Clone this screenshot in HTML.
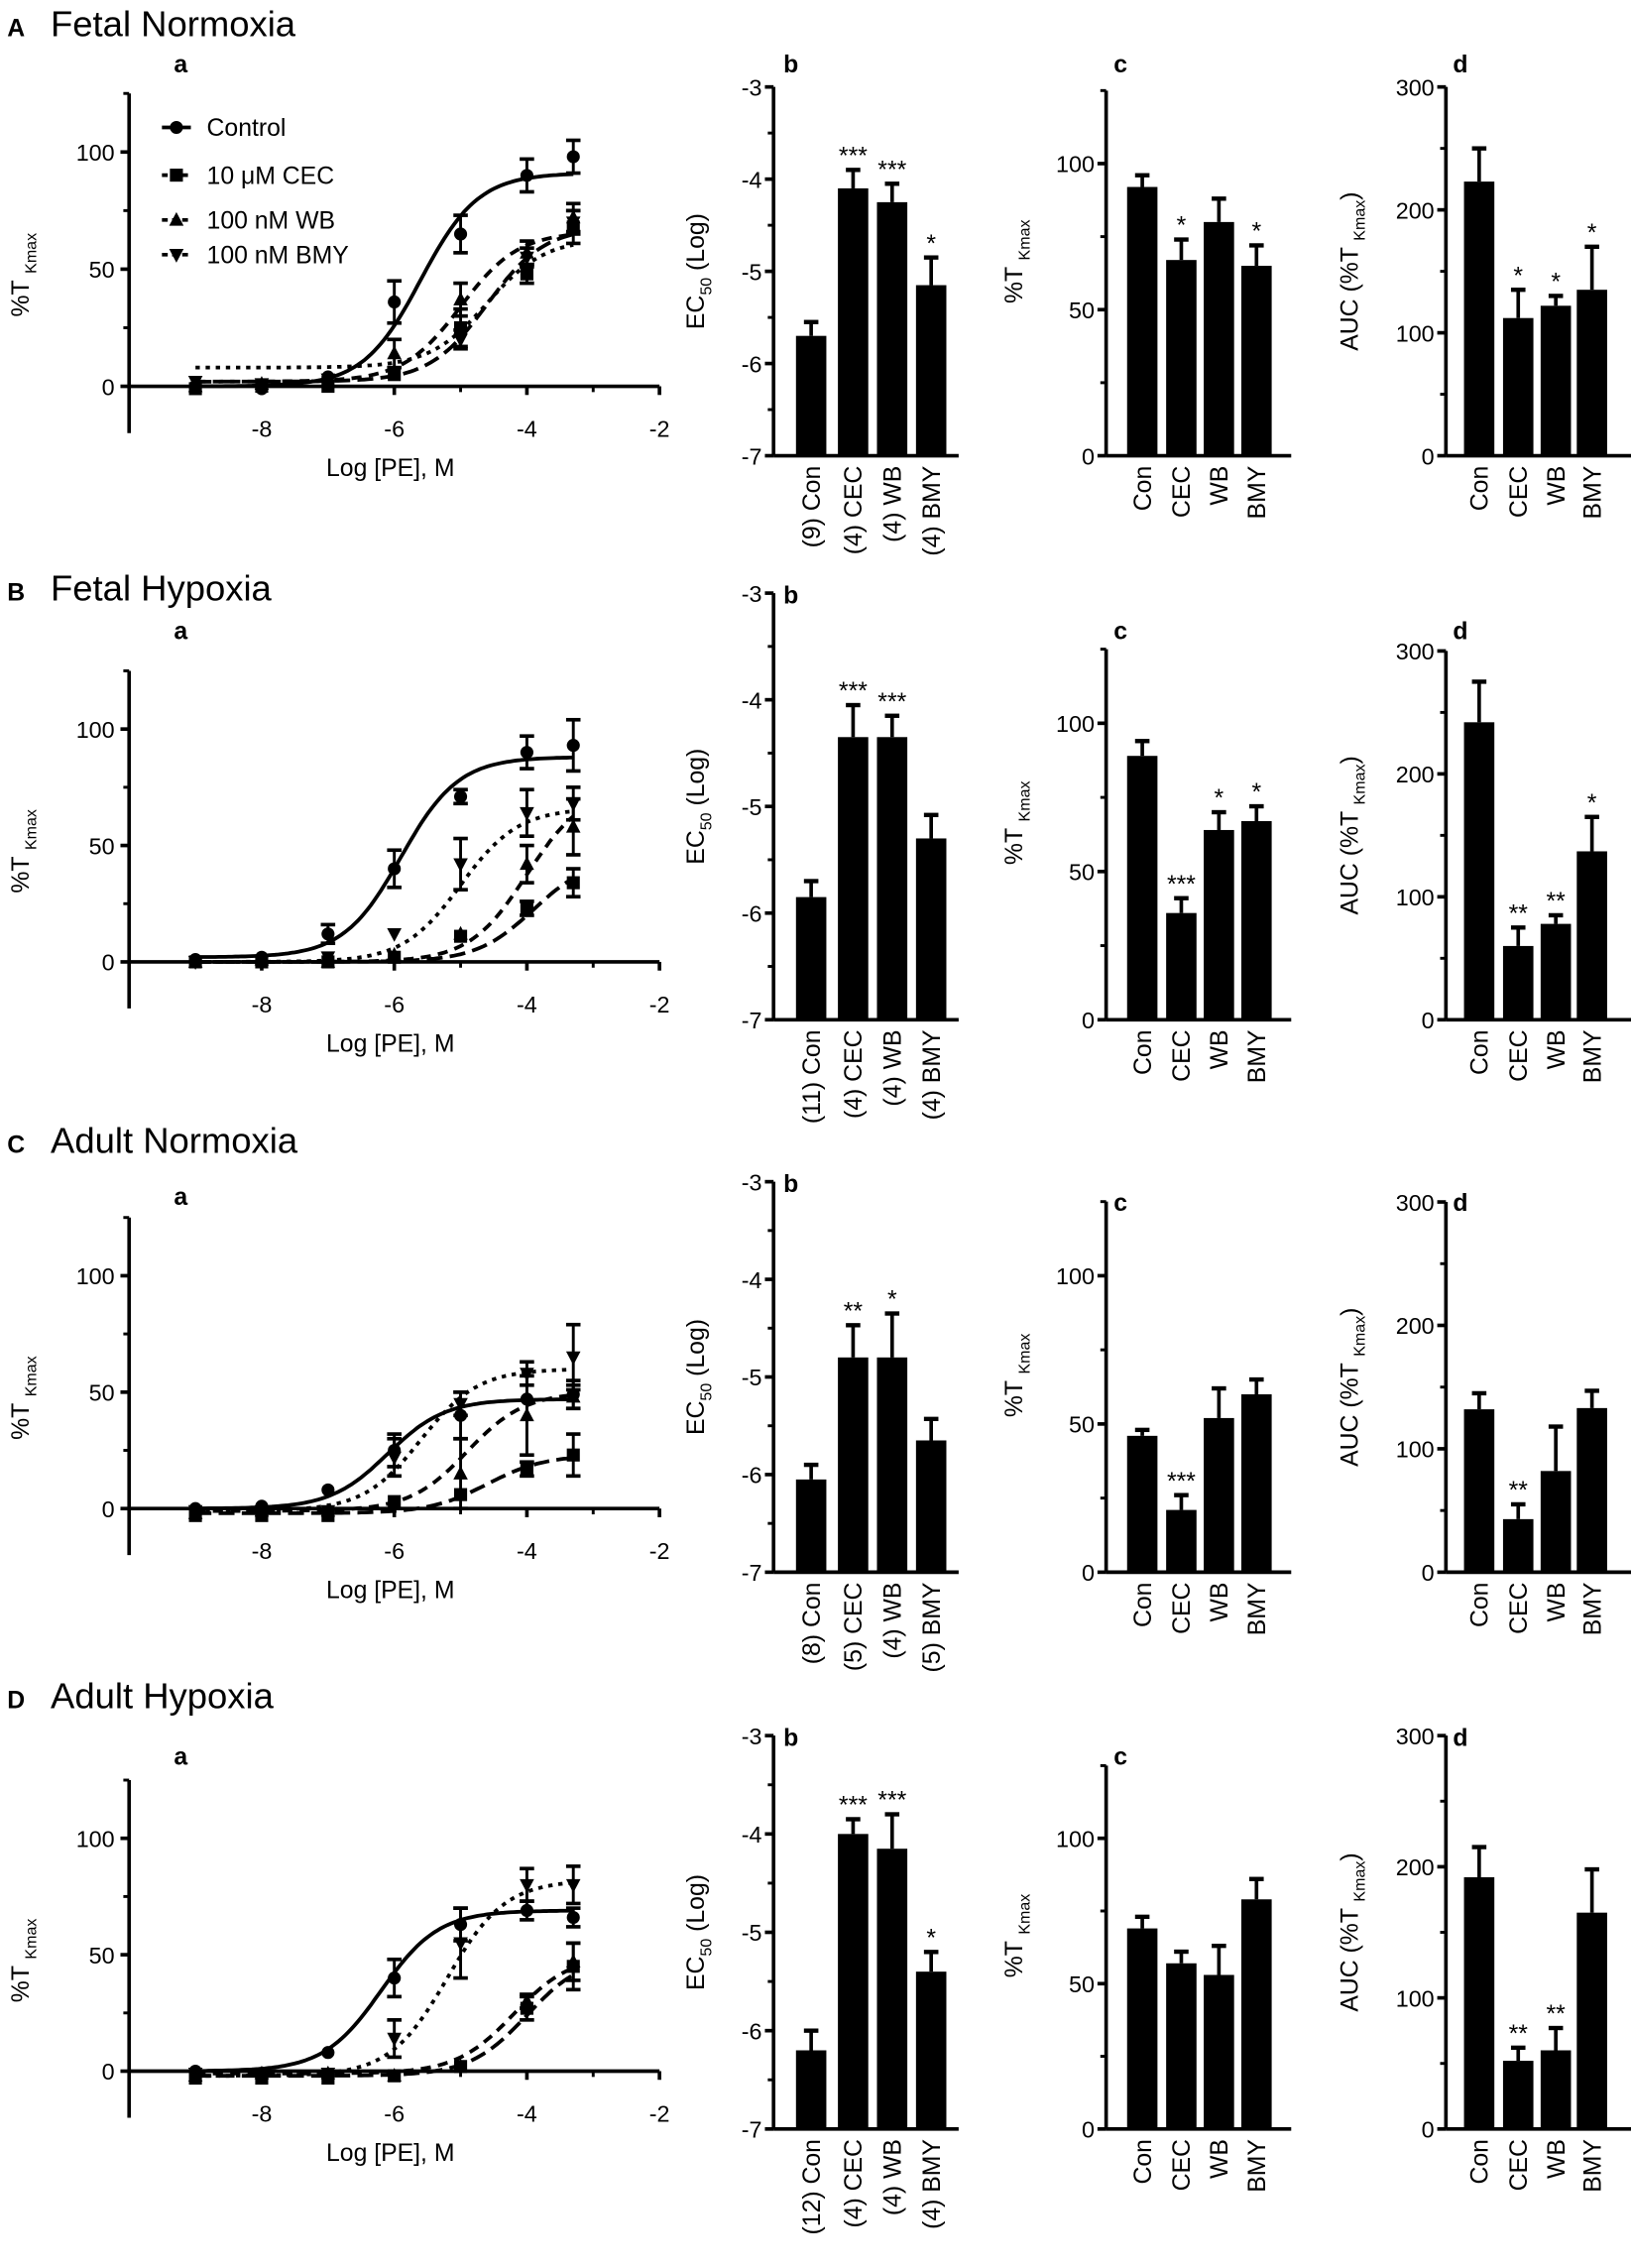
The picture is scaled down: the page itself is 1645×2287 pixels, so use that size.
<!DOCTYPE html>
<html><head><meta charset="utf-8"><style>
html,body{margin:0;padding:0;background:#fff}
svg{display:block}
text{font-family:"Liberation Sans",Arial,sans-serif;fill:#000}
</style></head><body>
<svg id="fig" xmlns="http://www.w3.org/2000/svg" width="1645" height="2287" viewBox="0 0 1128 1568"></svg>
<script>
// ---------- DATA ----------
const doseX = [-9,-8,-7,-6,-5,-4,-3.3];
const seriesLabels = ['Control','10 μM CEC','100 nM WB','100 nM BMY'];
const barCats = ['Con','CEC','WB','BMY'];

// Row A Fetal Normoxia
const A_control=[0,-1,4,36,65,90,98], A_control_err=[1,1,2,9,8,7,7], A_control_fit=[0,91,-5.6];
const A_cec=[-1,0,0,5,25,48,68], A_cec_err=[1,1,1,2,8,4,7], A_cec_fit=[2,68,-4.6];
const A_wb=[0,1,2,14,37,57,72], A_wb_err=[1,1,1,6,7,5,6], A_wb_fit=[2,66,-5.0];
const A_bmy=[2,1,3,6,20,55,70], A_bmy_err=[1,1,1,2,4,4,5], A_bmy_fit=[8,63,-4.6];
const A_ec50=[-5.7,-4.1,-4.25,-5.15], A_ec50_err=[0.15,0.2,0.2,0.3], A_ec50_stars=['','***','***','*'], A_ec50_n=['(9) Con','(4) CEC','(4) WB','(4) BMY'];
const A_tmax=[92,67,80,65], A_tmax_err=[4,7,8,7], A_tmax_stars=['','*','','*'];
const A_auc=[223,112,122,135], A_auc_err=[27,23,8,35], A_auc_stars=['','*','*','*'];

// Row B Fetal Hypoxia
const B_control=[1,2,12,40,71,90,93], B_control_err=[1,1,4,8,3,7,11], B_control_fit=[2,88,-5.9];
const B_cec=[0,0,0,2,11,23,34], B_cec_err=[1,1,1,1,2,3,6], B_cec_fit=[0,45,-3.9];
const B_wb=[0,1,0,3,12,42,58], B_wb_err=[1,1,1,1,2,8,12], B_wb_fit=[0,75,-4.0];
const B_bmy=[0,0,2,12,42,64,68], B_bmy_err=[1,1,1,2,11,10,7], B_bmy_fit=[0,66,-5.0];
const B_ec50=[-5.85,-4.35,-4.35,-5.3], B_ec50_err=[0.15,0.3,0.2,0.22], B_ec50_stars=['','***','***',''], B_ec50_n=['(11) Con','(4) CEC','(4) WB','(4) BMY'];
const B_tmax=[89,36,64,67], B_tmax_err=[5,5,6,5], B_tmax_stars=['','***','*','*'];
const B_auc=[242,60,78,137], B_auc_err=[33,15,7,28], B_auc_stars=['','**','**','*'];

// Row C Adult Normoxia
const C_control=[0,1,8,25,40,47,49], C_control_err=[1,1,1,7,10,2,6], C_control_fit=[0,47,-6.1];
const C_cec=[-3,-3,-3,3,6,17,23], C_cec_err=[1,1,1,2,2,3,9], C_cec_fit=[-2,23,-4.6];
const C_wb=[-2,-1,-1,2,15,40,48], C_wb_err=[1,1,1,2,15,17,5], C_wb_fit=[-1,50,-4.9];
const C_bmy=[-1,-1,-1,22,45,58,65], C_bmy_err=[1,1,1,8,5,5,14], C_bmy_fit=[-1,60,-5.6];
const C_ec50=[-6.05,-4.8,-4.8,-5.65], C_ec50_err=[0.15,0.33,0.45,0.22], C_ec50_stars=['','**','*',''], C_ec50_n=['(8) Con','(5) CEC','(4) WB','(5) BMY'];
const C_tmax=[46,21,52,60], C_tmax_err=[2,5,10,5], C_tmax_stars=['','***','',''];
const C_auc=[132,43,82,133], C_auc_err=[13,12,36,14], C_auc_stars=['','**','',''];

// Row D Adult Hypoxia
const D_control=[0,-1,8,40,63,69,66], D_control_err=[1,1,1,8,7,4,4], D_control_fit=[0,69,-6.2];
const D_cec=[-3,-3,-3,-2,2,27,45], D_cec_err=[1,1,1,1,1,5,10], D_cec_fit=[-2,50,-4.0];
const D_wb=[-2,-1,-1,-2,2,30,47], D_wb_err=[1,1,1,1,2,3,8], D_wb_fit=[-1,50,-4.2];
const D_bmy=[-1,-2,-1,14,55,80,80], D_bmy_err=[1,1,1,8,15,7,8], D_bmy_fit=[-2,82,-5.2];
const D_ec50=[-6.2,-4.0,-4.15,-5.4], D_ec50_err=[0.2,0.15,0.35,0.2], D_ec50_stars=['','***','***','*'], D_ec50_n=['(12) Con','(4) CEC','(4) WB','(4) BMY'];
const D_tmax=[69,57,53,79], D_tmax_err=[4,4,10,7], D_tmax_stars=['','','',''];
const D_auc=[192,52,60,165], D_auc_err=[23,10,17,33], D_auc_stars=['','**','**',''];

// ---------- LAYOUT ----------
const rows=[
 {id:'a-row',letter:'A',title:'Fetal Normoxia',ty:25,
  a:{y0:267,y100:105,ly:50},b:{top:60,bot:315,ly:50},c:{y0:315,y100:113,ly:50},d:{y0:315,y300:60,ly:50},
  cur:[A_control,A_cec,A_wb,A_bmy],err:[A_control_err,A_cec_err,A_wb_err,A_bmy_err],fit:[A_control_fit,A_cec_fit,A_wb_fit,A_bmy_fit],
  ec:[A_ec50,A_ec50_err,A_ec50_stars,A_ec50_n],tm:[A_tmax,A_tmax_err,A_tmax_stars],au:[A_auc,A_auc_err,A_auc_stars],legend:true},
 {id:'b-row',letter:'B',title:'Fetal Hypoxia',ty:415,
  a:{y0:665,y100:504,ly:442},b:{top:410,bot:705,ly:417},c:{y0:705,y100:500,ly:442},d:{y0:705,y300:450,ly:442},
  cur:[B_control,B_cec,B_wb,B_bmy],err:[B_control_err,B_cec_err,B_wb_err,B_bmy_err],fit:[B_control_fit,B_cec_fit,B_wb_fit,B_bmy_fit],
  ec:[B_ec50,B_ec50_err,B_ec50_stars,B_ec50_n],tm:[B_tmax,B_tmax_err,B_tmax_stars],au:[B_auc,B_auc_err,B_auc_stars]},
 {id:'c-row',letter:'C',title:'Adult Normoxia',ty:797,
  a:{y0:1043,y100:882,ly:833},b:{top:817,bot:1087,ly:824},c:{y0:1087,y100:882,ly:837},d:{y0:1087,y300:831,ly:837},
  cur:[C_control,C_cec,C_wb,C_bmy],err:[C_control_err,C_cec_err,C_wb_err,C_bmy_err],fit:[C_control_fit,C_cec_fit,C_wb_fit,C_bmy_fit],
  ec:[C_ec50,C_ec50_err,C_ec50_stars,C_ec50_n],tm:[C_tmax,C_tmax_err,C_tmax_stars],au:[C_auc,C_auc_err,C_auc_stars]},
 {id:'d-row',letter:'D',title:'Adult Hypoxia',ty:1181,
  a:{y0:1432,y100:1271,ly:1220},b:{top:1200,bot:1472,ly:1207},c:{y0:1472,y100:1271,ly:1220},d:{y0:1472,y300:1200,ly:1207},
  cur:[D_control,D_cec,D_wb,D_bmy],err:[D_control_err,D_cec_err,D_wb_err,D_bmy_err],fit:[D_control_fit,D_cec_fit,D_wb_fit,D_bmy_fit],
  ec:[D_ec50,D_ec50_err,D_ec50_stars,D_ec50_n],tm:[D_tmax,D_tmax_err,D_tmax_stars],au:[D_auc,D_auc_err,D_auc_stars]}
];
const NS='http://www.w3.org/2000/svg';
const svg=document.getElementById('fig');
function mk(tag,attrs,parent,txt){const e=document.createElementNS(NS,tag);for(const k in attrs)e.setAttribute(k,attrs[k]);if(txt!==undefined)e.textContent=txt;(parent||svg).appendChild(e);return e;}
function line(p,x1,y1,x2,y2,w){return mk('line',{x1,y1,x2,y2,stroke:'#000','stroke-width':w||2},p);}
const dashes=['none','11,5','7,5','3,4'];

function grp(parent,name){const g=mk('g',{},parent);


return g;}
function txt(p,x,y,s,size,anchor,name,extra){const t=mk('text',Object.assign({x,y,'font-size':size,'text-anchor':anchor||'middle'},extra||{}),p,s);


return t;}

function marker(p,k,cx,cy){
 let e;
 if(k===0)e=mk('circle',{cx,cy,r:4.5,fill:'#000'},p);
 else if(k===1)e=mk('rect',{x:cx-4.5,y:cy-4.5,width:9,height:9,fill:'#000'},p);
 else if(k===2)e=mk('polygon',{points:`${cx},${cy-5.5} ${cx-5},${cy+4} ${cx+5},${cy+4}`,fill:'#000'},p);
 else e=mk('polygon',{points:`${cx},${cy+5.5} ${cx-5},${cy-4} ${cx+5},${cy-4}`,fill:'#000'},p);
 
 
}

function yTitle(p,x,cy,main,sub,after,name){
 const t=mk('text',{transform:`translate(${x},${cy}) rotate(-90)`,'font-size':17,'text-anchor':'middle'},p);
 
 
 mk('tspan',{},t,main);mk('tspan',{'font-size':11,dy:5},t,sub);
 if(after)mk('tspan',{dy:-5,'font-size':17},t,after);
}

rows.forEach(r=>{
 const G=grp(svg,r.id);
 txt(G,5,r.ty,r.letter,17,'start','row-letter',{'font-weight':'bold'});
 txt(G,35,r.ty,r.title,25,'start','row-title');

 // ---- panel a: curves ----
 const pa=grp(G,'dose-response-panel');
 const xs=v=>181+(v+8)*45.85, ys=v=>r.a.y0-(v/100)*(r.a.y0-r.a.y100);
 const ax=xs(-10);
 line(pa,ax,ys(125),ax,ys(-20),2.5);
 [0,50,100].forEach(v=>{line(pa,ax-6,ys(v),ax,ys(v),2.5);txt(pa,ax-10,ys(v)+6,String(v),16,'end','y-tick-label');});
 [25,75,125].forEach(v=>line(pa,ax-4,ys(v),ax,ys(v),2));
 line(pa,ax,ys(0),xs(-2),ys(0),2.5);
 [-8,-6,-4,-2].forEach(v=>{line(pa,xs(v),ys(0),xs(v),ys(0)+6,2.5);txt(pa,xs(v),ys(0)+35,String(v),16,'middle','x-tick-label');});
 [-9,-7,-5,-3].forEach(v=>line(pa,xs(v),ys(0),xs(v),ys(0)+4,2));
 txt(pa,270,ys(0)+62,'Log [PE], M',17,'middle','x-axis-title');
 yTitle(pa,20,(ys(125)+ys(-20))/2+8,'%T ','Kmax','','y-axis-title');
 txt(pa,125,r.a.ly,'a',17,'middle','panel-label',{'font-weight':'bold'});
 r.cur.forEach((vals,k)=>{
  const sg=grp(pa,'series-'+['control','cec','wb','bmy'][k]);
  const f=r.fit[k];let d='';
  for(let v=-9;v<=-3.3;v+=0.05){const y=f[0]+(f[1]-f[0])/(1+Math.pow(10,f[2]-v));d+=(d?'L':'M')+xs(v).toFixed(1)+','+ys(y).toFixed(1);}
  const pth=mk('path',{d,fill:'none',stroke:'#000','stroke-width':2.6,'stroke-dasharray':dashes[k]},sg);
  
  
  vals.forEach((v,i)=>{
   const e=r.err[k][i],cx=xs(doseX[i]);
   if(e>2){line(sg,cx,ys(v-e),cx,ys(v+e),2);line(sg,cx-5,ys(v+e),cx+5,ys(v+e),2.5);line(sg,cx-5,ys(v-e),cx+5,ys(v-e),2.5);}
   marker(sg,k,cx,ys(v));
  });
 });
 if(r.legend){
  const lg=grp(pa,'legend');
  const ly=[88,121,152,176];
  seriesLabels.forEach((s,k)=>{
   const le=grp(lg,'legend-entry');
   mk('line',{x1:112,y1:ly[k],x2:132,y2:ly[k],stroke:'#000','stroke-width':2.5,'stroke-dasharray':dashes[k]==='none'?'none':'4,3'},le);
   marker(le,k,122,ly[k]);
   txt(le,143,ly[k]+6,s,17,'start','legend-label');
  });
 }

 // ---- bar panels ----
 function barPanel(name,axX,yf,ticks,minor,topV,botV,vals,errs,stars,labels,offs,letterX,ly,titleFn){
  const p=grp(G,name);
  line(p,axX,yf(topV),axX,yf(botV),2.5);
  line(p,axX,yf(botV),axX+128,yf(botV),2.5);
  ticks.forEach(v=>{line(p,axX-6,yf(v),axX,yf(v),2.5);txt(p,axX-8,yf(v)+6,String(v),16,'end','y-tick-label');});
  minor.forEach(v=>line(p,axX-4,yf(v),axX,yf(v),2));
  txt(p,letterX,ly,name==='ec50-panel'?'b':name==='tmax-panel'?'c':'d',17,'middle','panel-label',{'font-weight':'bold'});
  vals.forEach((v,i)=>{
   const cx=axX+offs[i],bw=21;
   const b=mk('rect',{x:cx-bw/2,y:Math.min(yf(v),yf(botV)),width:bw,height:Math.abs(yf(botV)-yf(v)),fill:'#000'},p);
   
   
   const et=yf(v+errs[i]);
   line(p,cx,yf(v),cx,et,2.5);line(p,cx-5,et,cx+5,et,3);
   if(stars[i])txt(p,cx,et-4,stars[i],17,'middle','significance-stars');
   const t=mk('text',{transform:`translate(${cx+6},${yf(botV)+7}) rotate(-90)`,'font-size':17,'text-anchor':'end'},p,labels[i]);
   
   
  });
  titleFn(p);
 }
 const offB=[26,55,82,109],offC=[25,52,78,104],offD=[23,50,76,101];
 const yb=v=>r.b.top+(-3-v)*(r.b.bot-r.b.top)/4;
 barPanel('ec50-panel',535,yb,[-3,-4,-5,-6,-7],[-3.5,-4.5,-5.5,-6.5],-3,-7,r.ec[0],r.ec[1],r.ec[2],r.ec[3],offB,547,r.b.ly,
  p=>yTitle(p,487,(r.b.top+r.b.bot)/2,'EC','50',' (Log)','y-axis-title'));
 const yc=v=>r.c.y0-(v/100)*(r.c.y0-r.c.y100);
 barPanel('tmax-panel',765,yc,[0,50,100],[25,75,125],125,0,r.tm[0],r.tm[1],r.tm[2],barCats,offC,775,r.c.ly,
  p=>yTitle(p,707,(yc(125)+yc(0))/2-8,'%T ','Kmax','','y-axis-title'));
 const yd=v=>r.d.y0-(v/300)*(r.d.y0-r.d.y300);
 barPanel('auc-panel',1000,yd,[0,100,200,300],[50,150,250],300,0,r.au[0],r.au[1],r.au[2],barCats,offD,1010,r.d.ly,
  p=>yTitle(p,939,(yd(300)+yd(0))/2,'AUC (%T ','Kmax',')','y-axis-title'));
});
</script>
</body></html>
